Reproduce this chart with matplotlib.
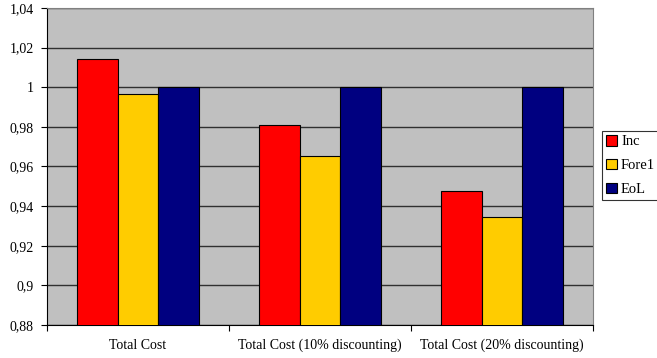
import numpy as np
import matplotlib
matplotlib.use("Agg")
import matplotlib.pyplot as plt

plt.rcParams['font.family'] = ['Liberation Serif', 'DejaVu Serif']

categories = ["Total Cost", "Total Cost (10% discounting)", "Total Cost (20% discounting)"]
series_names = ["Inc", "Fore1", "EoL"]
inc = [1.0145, 0.9807, 0.9478]
fore1 = [0.9965, 0.9653, 0.9343]
eol = [1.0, 1.0, 1.0]
yticks = [0.88, 0.90, 0.92, 0.94, 0.96, 0.98, 1.00, 1.02, 1.04]
ytick_labels = ["0,88", "0,9", "0,92", "0,94", "0,96", "0,98", "1", "1,02", "1,04"]

colors = ["#FF0000", "#FFCC00", "#000080"]

fig = plt.figure(figsize=(6.57, 3.58), dpi=100)
ax = fig.add_axes([0.0715, 0.0922, 0.8311, 0.8855])
ax.set_facecolor("#C0C0C0")

x = np.arange(len(categories))
w = 0.222
for i, vals in enumerate([inc, fore1, eol]):
    ax.bar(x + (i - 1) * w, vals, w, color=colors[i], edgecolor="black",
           linewidth=0.8, label=series_names[i], zorder=3)

ax.set_xlim(-0.5, len(categories) - 0.5)
ax.set_ylim(0.88, 1.04)
ax.set_yticks(yticks)
ax.set_yticklabels(ytick_labels, fontsize=10)
ax.yaxis.grid(True, color="#303030", linewidth=1.0, zorder=1)
ax.set_axisbelow(True)

# category boundaries carry the tick marks, labels sit in between
ax.set_xticks(np.arange(len(categories) + 1) - 0.5)
ax.set_xticklabels([""] * (len(categories) + 1))
ax.set_xticks(x, minor=True)
ax.set_xticklabels(categories, minor=True, fontsize=10)
ax.tick_params(axis="x", which="major", length=4.5, width=0.8, direction="out")
ax.tick_params(axis="x", which="minor", length=0, pad=10)
ax.tick_params(axis="y", length=4.5, width=0.8, pad=5)

for s in ["top", "right"]:
    ax.spines[s].set_color("#808080")
for s in ["left", "bottom"]:
    ax.spines[s].set_color("black")

leg = fig.legend(loc="center left", bbox_to_anchor=(0.9165, 0.5377),
                 fontsize=10.5, frameon=True, fancybox=False, shadow=False,
                 handlelength=0.75, handleheight=0.75, handletextpad=0.3,
                 labelspacing=0.72, borderpad=0.25, borderaxespad=0)
leg.get_frame().set_edgecolor("black")
leg.get_frame().set_linewidth(0.8)

fig.savefig("out.png", dpi=100)
